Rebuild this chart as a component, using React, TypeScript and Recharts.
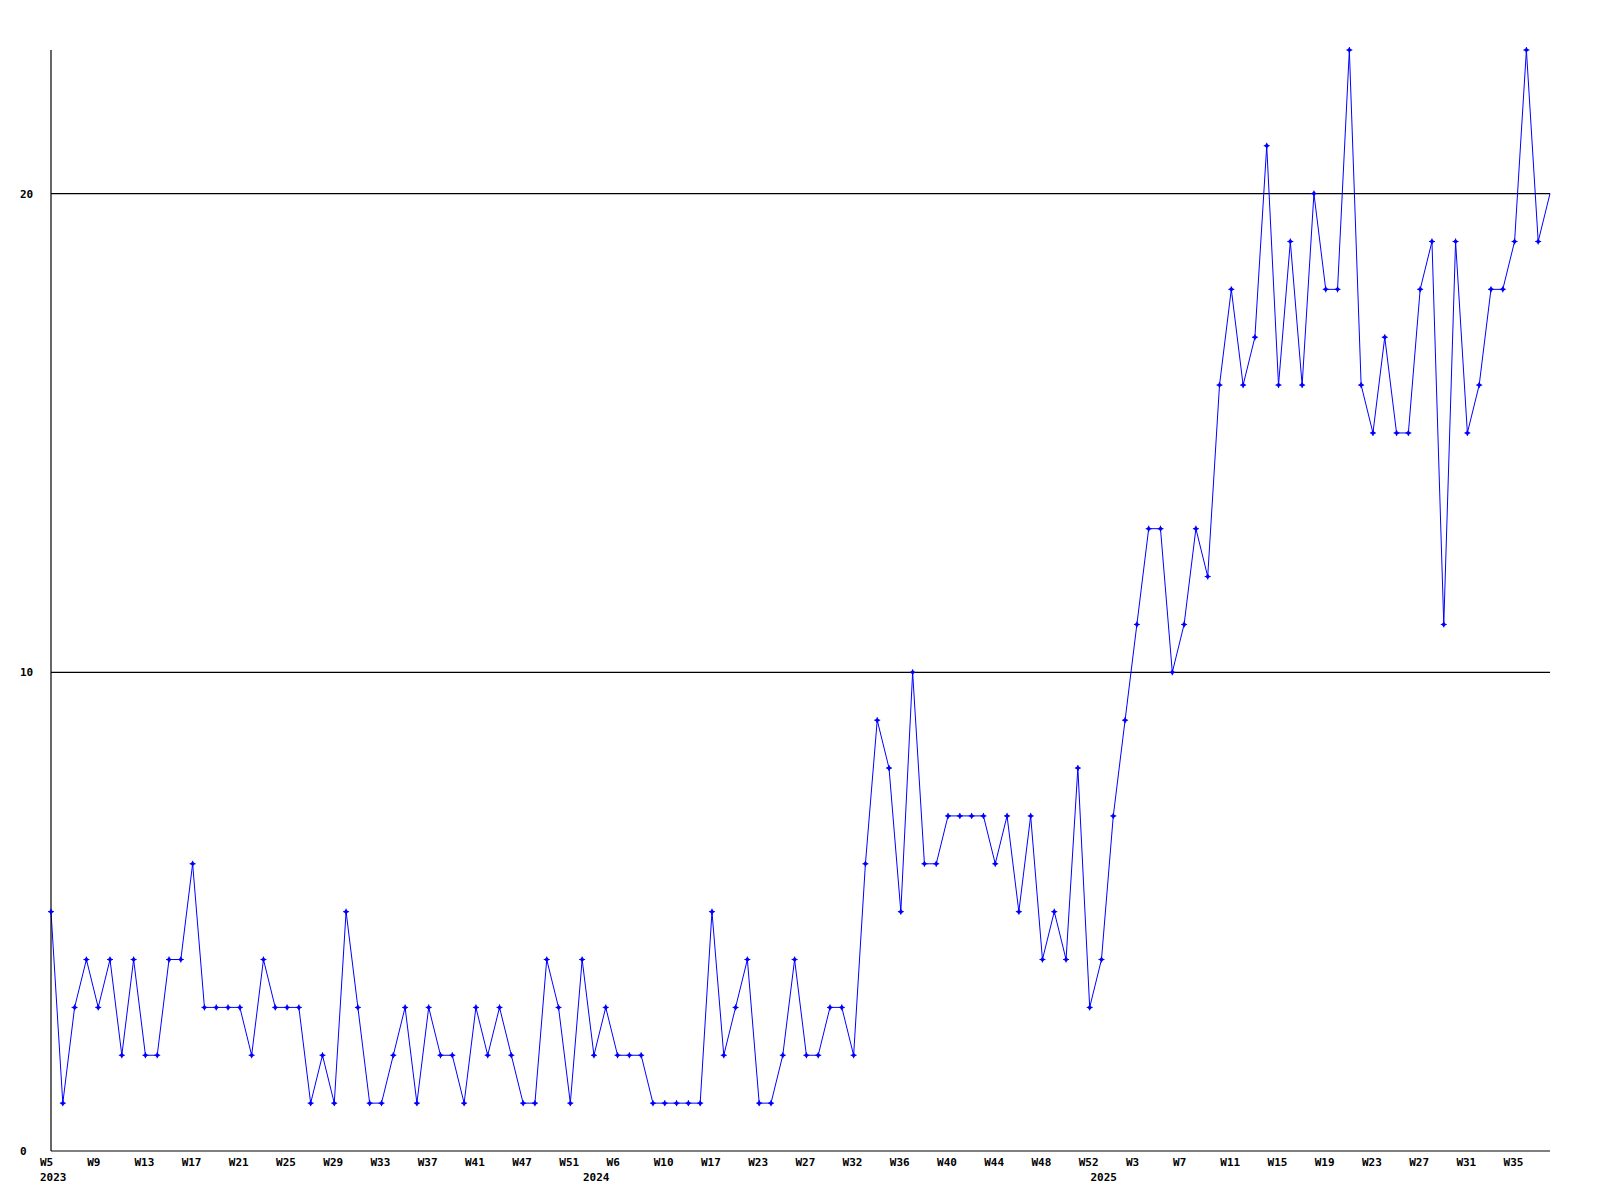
import { LineChart, Line, XAxis, YAxis, ReferenceLine } from "recharts";

// weekly counts, 2023 W5 .. 2025 W38 (weeks with no data are missing)
const years: number[] = [
  2023, 2023, 2023, 2023, 2023, 2023, 2023, 2023, 2023, 2023, 2023, 2023, 2023, 2023, 2023, 2023,
  2023, 2023, 2023, 2023, 2023, 2023, 2023, 2023, 2023, 2023, 2023, 2023, 2023, 2023, 2023, 2023,
  2023, 2023, 2023, 2023, 2023, 2023, 2023, 2023, 2023, 2023, 2023, 2023, 2023, 2023,
  2024, 2024, 2024, 2024, 2024, 2024, 2024, 2024, 2024, 2024, 2024, 2024, 2024, 2024, 2024, 2024,
  2024, 2024, 2024, 2024, 2024, 2024, 2024, 2024, 2024, 2024, 2024, 2024, 2024, 2024, 2024, 2024,
  2024, 2024, 2024, 2024, 2024, 2024, 2024, 2024, 2024, 2024, 2024,
  2025, 2025, 2025, 2025, 2025, 2025, 2025, 2025, 2025, 2025, 2025, 2025, 2025, 2025, 2025, 2025,
  2025, 2025, 2025, 2025, 2025, 2025, 2025, 2025, 2025, 2025, 2025, 2025, 2025, 2025, 2025, 2025,
  2025, 2025, 2025, 2025, 2025, 2025, 2025,
];

const weeks: number[] = [
  5, 6, 7, 8, 9, 10, 11, 12, 13, 14, 15, 16, 17, 18, 19, 20,
  21, 22, 23, 24, 25, 26, 27, 28, 29, 30, 31, 32, 33, 34, 35, 36,
  37, 38, 39, 40, 41, 44, 45, 46, 47, 48, 49, 50, 51, 52,
  4, 5, 6, 7, 8, 9, 10, 11, 13, 15, 17, 18, 20, 22, 23, 24,
  25, 26, 27, 28, 29, 31, 32, 33, 34, 35, 36, 37, 38, 39, 40, 41,
  42, 43, 44, 45, 46, 47, 48, 49, 50, 51, 52,
  0, 1, 2, 3, 4, 5, 6, 7, 8, 9, 10, 11, 12, 13, 14, 15,
  16, 17, 18, 19, 20, 21, 22, 23, 24, 25, 26, 27, 28, 29, 30, 31,
  32, 33, 34, 35, 36, 37, 38,
];

const counts: number[] = [
  5, 1, 3, 4, 3, 4, 2, 4, 2, 2, 4, 4, 6, 3, 3, 3, 3, 2, 4, 3, 3, 3, 1, 2, 1, 5, 3,
  1, 1, 2, 3, 1, 3, 2, 2, 1, 3, 2, 3, 2, 1, 1, 4, 3, 1, 4, 2, 3, 2, 2, 2, 1,
  1, 1, 1, 1, 5, 2, 3, 4, 1, 1, 2, 4, 2, 2, 3, 3, 2, 6,
  9, 8, 5, 10, 6, 6, 7, 7, 7, 7, 6, 7, 5, 7, 4, 5, 4, 8, 3, 4, 7, 9,
  11, 13, 13, 10, 11, 13, 12,
  16, 18, 16, 17, 21, 16, 19, 16, 20, 18, 18, 23, 16, 15, 17, 15, 15, 18, 19, 11, 19, 15, 16, 18,
  18, 19, 23, 19, 20,
];

const yTicks = [0, 10, 20];
const gridLines = [10, 20];

const data = counts.map((v, i) => ({ idx: i, week: weeks[i], year: years[i], value: v }));

const FONT = "'DejaVu Sans Mono', monospace";

function WeekTick(props: any) {
  const { x, y, payload } = props;
  const i = payload.value as number;
  const firstOfYear = i === 0 || years[i] !== years[i - 1];
  return (
    <g>
      {i % 4 === 0 && (
        <text x={x - 11} y={y + 7} fontFamily={FONT} fontWeight="bold" fontSize={11} fill="#000" textAnchor="start">
          {`W${weeks[i]}`}
        </text>
      )}
      {firstOfYear && (
        <text x={x - 11} y={y + 22} fontFamily={FONT} fontWeight="bold" fontSize={11} fill="#000" textAnchor="start">
          {years[i]}
        </text>
      )}
    </g>
  );
}

function CountTick(props: any) {
  const { y, payload } = props;
  return (
    <text x={20} y={y} dy={4} fontFamily={FONT} fontWeight="bold" fontSize={11} fill="#000" textAnchor="start">
      {payload.value}
    </text>
  );
}

function Marker(props: any) {
  const { cx, cy, index } = props;
  if (index === counts.length - 1 || cx == null) return <g key={`m${index}`} />;
  return (
    <g key={`m${index}`}>
      <path d={`M${cx - 2.5},${cy} L${cx},${cy - 2.5} L${cx + 2.5},${cy} L${cx},${cy + 2.5} Z`} fill="#0000ff" />
      <path d={`M${cx - 3},${cy} H${cx + 3} M${cx},${cy - 3} V${cy + 3}`} stroke="#0000ff" strokeWidth={1} />
    </g>
  );
}

export default function App() {
  return (
    <div style={{ position: "absolute", left: 0, top: 0, background: "#fff" }}>
      <LineChart width={1600} height={1200} data={data} margin={{ top: 50, right: 50, bottom: 0, left: 0 }}>
        <XAxis
          dataKey="idx"
          type="category"
          interval={0}
          height={49}
          tickLine={false}
          axisLine={{ stroke: "#000", strokeWidth: 1.2 }}
          tick={<WeekTick />}
        />
        <YAxis
          width={51}
          domain={[0, 23]}
          ticks={yTicks}
          tickLine={false}
          axisLine={{ stroke: "#000", strokeWidth: 1.2 }}
          tick={<CountTick />}
        />
        {gridLines.map((g) => (
          <ReferenceLine key={g} y={g} stroke="#000" strokeWidth={1.2} />
        ))}
        <Line
          type="linear"
          dataKey="value"
          stroke="#0000ff"
          strokeWidth={1}
          dot={<Marker />}
          activeDot={false}
          isAnimationActive={false}
        />
      </LineChart>
    </div>
  );
}
